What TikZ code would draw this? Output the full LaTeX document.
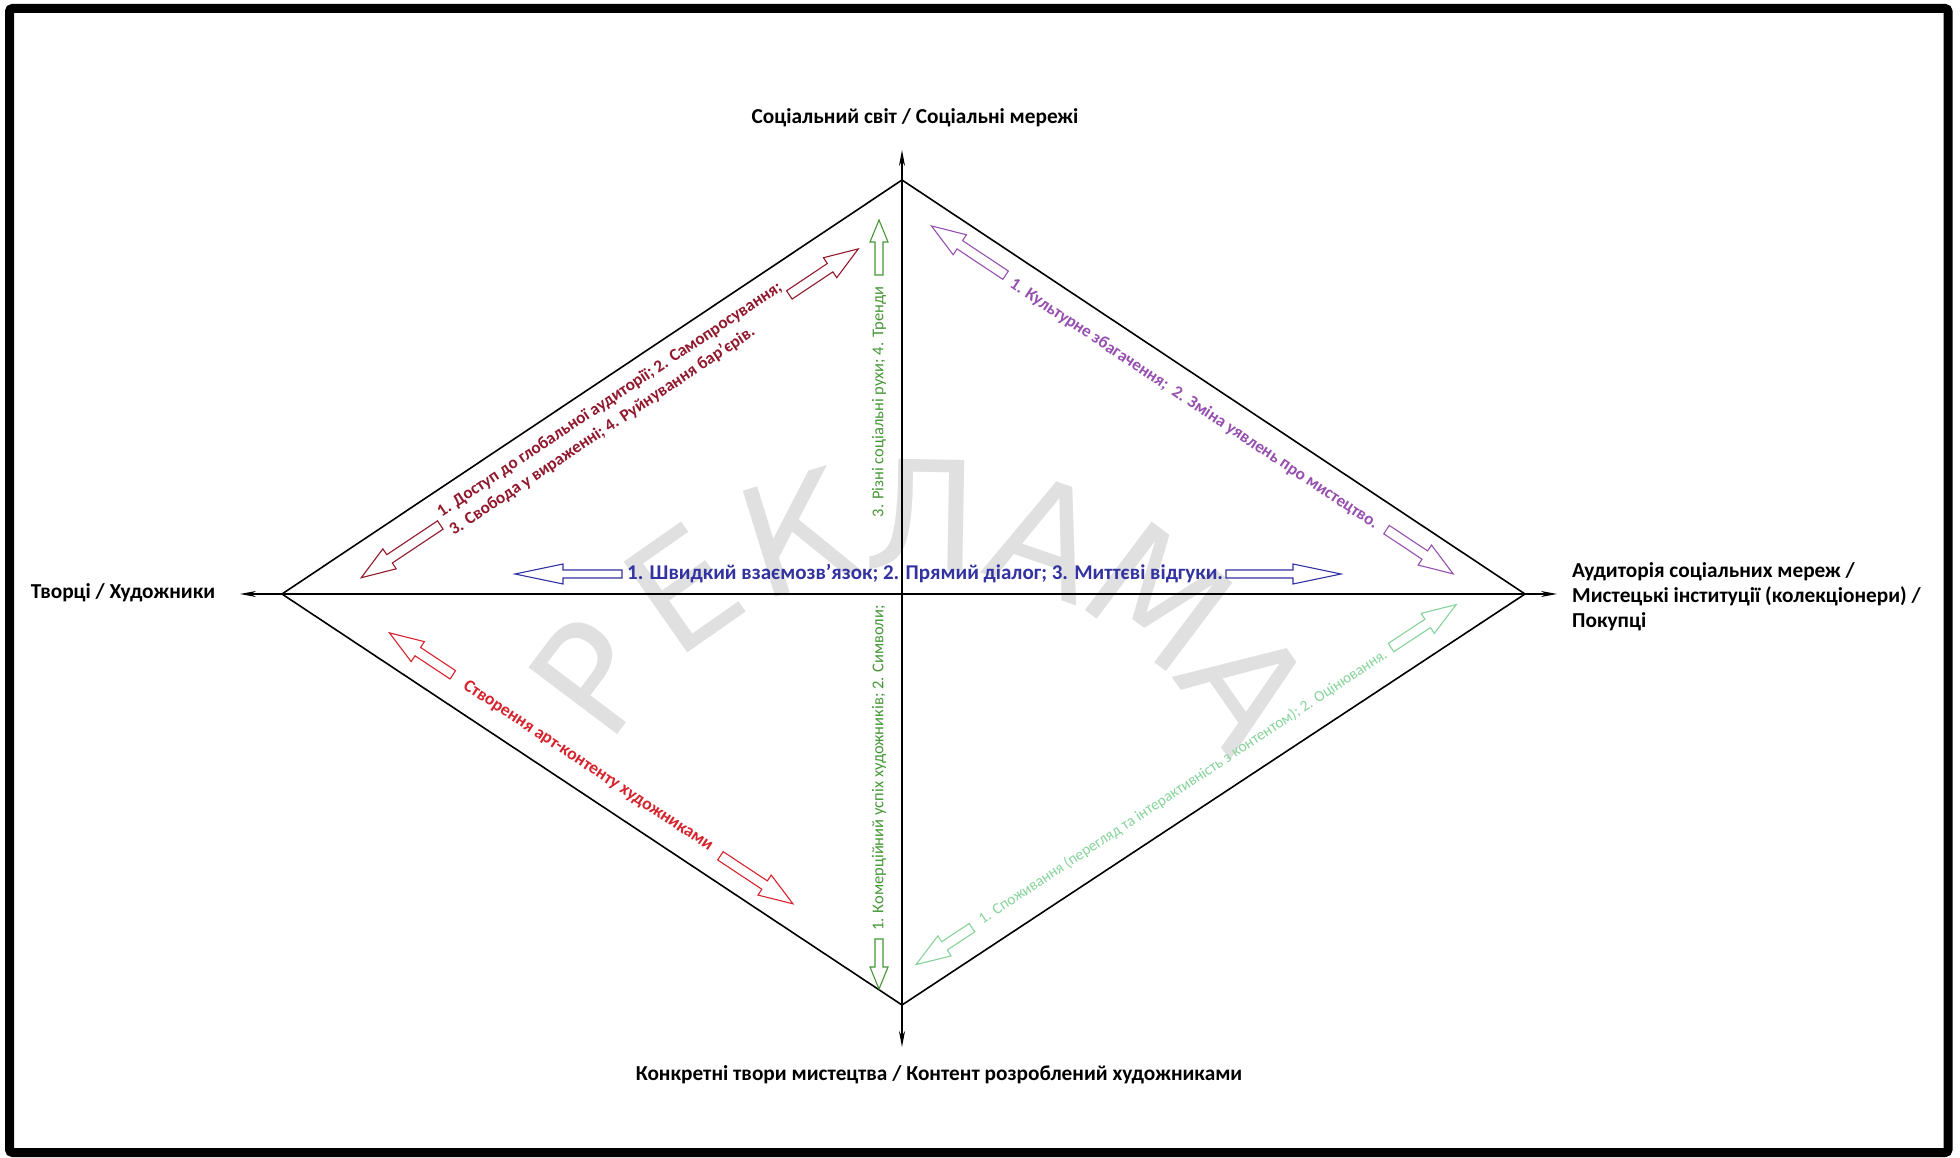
\documentclass[tikz,border=0pt]{standalone}
\usepackage{fontspec}
\setmainfont{Carlito}
\newfontfamily\wmfont{DejaVu Sans}
\usetikzlibrary{arrows.meta}
\definecolor{dred}{RGB}{145,25,45}
\definecolor{purp}{RGB}{150,80,175}
\definecolor{rred}{RGB}{215,35,45}
\definecolor{lgreen}{RGB}{135,212,155}
\definecolor{bblue}{RGB}{50,50,160}
\definecolor{ggreen}{RGB}{70,150,55}
\definecolor{wmgray}{RGB}{224,224,224}
\newcommand{\blockarr}[4]{%
  \begin{scope}[shift={#1},rotate=#2]
  \draw[barrow,#4] (0,-\bsw) -- ({#3-\bhl},-\bsw) -- ({#3-\bhl},-\bhw) -- (#3,0) -- ({#3-\bhl},\bhw) -- ({#3-\bhl},\bsw) -- (0,\bsw) -- cycle;
  \end{scope}}
\def\bsw{5}\def\bhw{12}\def\bhl{34}
\begin{document}
\begin{tikzpicture}[x=1pt,y=-1pt,
  axisline/.style={line width=1.4pt, {Stealth[length=16pt,width=6pt,inset=5pt]}-{Stealth[length=16pt,width=6pt,inset=5pt]}},
  edgeline/.style={line width=1.6pt, line join=miter},
  lbl/.style={font=\fontsize{21.3}{25}\selectfont\bfseries, inner sep=0pt},
  clbl/.style={font=\fontsize{17.2}{22}\selectfont\bfseries, inner sep=0pt},
  glbl/.style={font=\fontsize{16.5}{19}\selectfont, inner sep=0pt},
  barrow/.style={line width=1.1pt, line join=miter},
  wm/.style={font=\wmfont\fontsize{152}{152}\selectfont, text=wmgray, inner sep=0pt}]
\useasboundingbox (0,0) rectangle (1960,1158);
\fill[white] (0,0) rectangle (1960,1158);
\draw[line width=9pt, rounded corners=3pt] (9.5,8.5) rectangle (1948,1152.5);
% watermark
\foreach \ch [count=\i] in {Р,Е,К,Л,А,М,А} {
  \pgfmathsetmacro\ang{143-(\i-1)*18}
  \node[wm, rotate=\ang-90] (w\i) at ({915+405*cos(\ang)},{920-405*sin(\ang)}) {\ch};
}
% frame of the diagram
\coordinate (L) at (282,594);
\coordinate (R) at (1525,594);
\coordinate (T) at (902,180);
\coordinate (B) at (902,1005);
\coordinate (Lx) at (240,594);
\coordinate (Rx) at (1557,594);
\coordinate (Tx) at (902,150);
\coordinate (Bx) at (902,1047);
\draw[axisline] (Lx) -- (Rx);
\draw[axisline] (Tx) -- (Bx);
\draw[edgeline] (L) -- (T) -- (R) -- (B) -- cycle;
% black labels
\node[lbl] (toplbl) at (915,118) {Соціальний світ / Соціальні мережі};
\node[lbl] (leftlbl) at (123,593) {Творці / Художники};
\node[lbl, align=left, anchor=west] (rightlbl) at (1572,597) {Аудиторія соціальних мереж /\\Мистецькі інституції (колекціонери) /\\Покупці};
\node[lbl] (botlbl) at (939,1075) {Конкретні твори мистецтва / Контент розроблений художниками};
% coloured labels
\node[clbl, text=dred, align=left, anchor=west, rotate=33.7] (ul) at (445,523) {1. Доступ до глобальної аудиторії; 2. Самопросування;\\3. Свобода у вираженні; 4. Руйнування бар'єрів.};
\node[clbl, text=purp, rotate=-33.6] (ur) at (1194,404) {1. Культурне збагачення;\ \ 2. Зміна уявлень про мистецтво.};
\node[clbl, text=rred, rotate=-33.5, font=\fontsize{17.7}{22}\selectfont\bfseries] (ll) at (588,766) {Створення арт-контенту художниками};
\node[glbl, text=lgreen, rotate=33.4, font=\fontsize{15.5}{19}\selectfont] (lr) at (1183,787) {1. Споживання (перегляд та інтерактивність з контентом); 2. Оцінювання.};
\node[lbl, text=bblue, font=\fontsize{21}{25}\selectfont\bfseries] (mid) at (925,574) {1. Швидкий взаємозв'язок; 2. Прямий діалог; 3. Миттєві відгуки.};
\node[glbl, text=ggreen, rotate=90] (vup) at (879,402) {3. Різні соціальні рухи; 4. Тренди};
\node[glbl, text=ggreen, rotate=90] (vdn) at (879,768) {1. Комерційний успіх художників; 2. Символи;};
% block arrows
\blockarr{(440.3,525)}{213.7}{95}{dred}
\blockarr{(789.3,294.9)}{33.7}{83}{dred}
\blockarr{(1005.6,275.2)}{146.4}{89}{purp}
\blockarr{(1386.5,529.6)}{-33.6}{80}{purp}
\blockarr{(452.8,674.8)}{146.5}{76}{rred}
\blockarr{(720.4,855.8)}{-33.5}{87}{rred}
\blockarr{(972,927.7)}{213.4}{67}{lgreen}
\blockarr{(1391,647.6)}{33.4}{78}{lgreen}
\def\bsw{4}\def\bhw{10}\def\bhl{48}
\blockarr{(622,574)}{180}{107}{bblue}
\blockarr{(1226,574)}{0}{115}{bblue}
\def\bsw{4}\def\bhw{9}\def\bhl{22}
\blockarr{(879,275)}{90}{55}{ggreen}
\blockarr{(879,939)}{-90}{50}{ggreen}
\end{tikzpicture}
\end{document}
